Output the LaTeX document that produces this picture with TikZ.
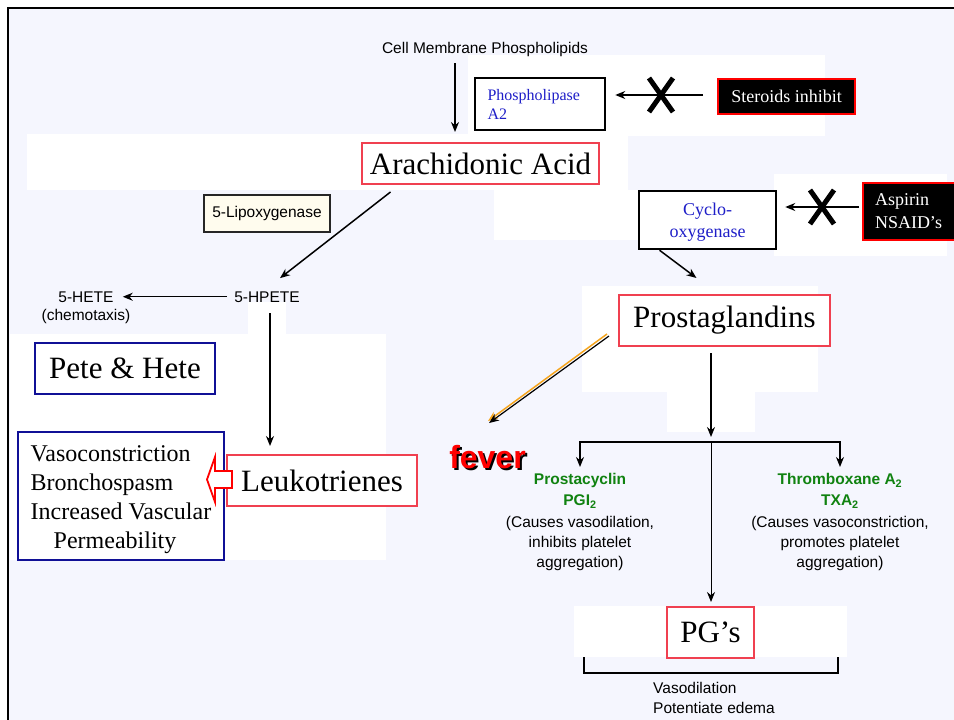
\documentclass[tikz,border=0pt]{standalone}
\usepackage{fontspec}
\setmainfont{Liberation Serif}
\newfontfamily\arialf{Liberation Sans}
\usetikzlibrary{arrows.meta,shapes.misc}
\definecolor{lavender}{RGB}{245,246,254}
\definecolor{boxred}{RGB}{240,64,80}
\definecolor{navy}{RGB}{16,16,150}
\definecolor{linkblue}{RGB}{30,30,200}
\definecolor{leafgreen}{RGB}{16,130,16}
\definecolor{feverorange}{RGB}{245,165,30}
\definecolor{cream}{RGB}{255,252,238}
\begin{document}
\begin{tikzpicture}[x=1pt,y=-1pt,
  redbox/.style={draw=boxred,line width=2pt,fill=white,inner sep=0pt,font=\fontsize{31}{34}\selectfont},
  bluebox/.style={draw=navy,line width=2pt,fill=white,inner sep=0pt},
  enzbox/.style={draw=black,line width=2.5pt,fill=white,text=linkblue,inner sep=0pt},
  drugbox/.style={draw=red,line width=2pt,fill=black,text=white,inner sep=0pt,font=\fontsize{18}{23}\selectfont},
  lbl/.style={inner sep=1pt,font=\arialf\fontsize{15.5}{20}\selectfont},
  ttl/.style={inner sep=1pt,align=center,text=leafgreen,font=\arialf\bfseries\fontsize{15.5}{21}\selectfont},
  fevertxt/.style={inner sep=1pt,font=\arialf\bfseries\fontsize{32}{32}\selectfont},
  xmark/.style={cross out,draw,line width=5pt,minimum width=19pt,minimum height=29pt,inner sep=0pt},
  arr/.style={-{Stealth[length=10pt,width=8pt]},line width=1.5pt}]
  \useasboundingbox (0,0) rectangle (954,720);
  % background and white patches
  \fill[white] (0,0) rectangle (954,720);
  \fill[lavender] (8,8) rectangle (954,720);
  \fill[white] (468,55) rectangle (825,136);
  \fill[white] (27,134) rectangle (628,190);
  \fill[white] (494,190) rectangle (774,240);
  \fill[white] (774,174) rectangle (947,256);
  \fill[white] (582,286) rectangle (818,392);
  \fill[white] (667,392) rectangle (755,432);
  \fill[white] (574,606) rectangle (847,657);
  \fill[white] (10,334) rectangle (386,560);
  \fill[white] (248,302) rectangle (286,334);
  \draw[line width=2.5pt] (8,720) -- (8,8) -- (954,8);

  \node[lbl,anchor=base] (cmp) at (485,53) {Cell Membrane Phospholipids};
  \node[redbox,minimum width=237pt,minimum height=41pt] (aa) at (480.5,163.5) {Arachidonic Acid};
  \node[enzbox,minimum width=130pt,minimum height=52pt,text width=105pt,align=left,font=\fontsize{16}{19}\selectfont] (pla) at (540,104) {Phospholipase\\A2};
  \node[drugbox,minimum width=137pt,minimum height=35pt] (st) at (786.5,96.5) {Steroids inhibit};
  \node[enzbox,minimum width=137pt,minimum height=58pt,align=center,font=\fontsize{18}{22}\selectfont] (cox) at (707.5,220) {\rule{0pt}{17pt}Cyclo-\\oxygenase};
  \node[drugbox,minimum width=112pt,minimum height=57pt,text width=88pt,align=left] (asp) at (919,211.5) {Aspirin\\NSAID’s};
  \node[lbl,draw=black!85,line width=1.5pt,fill=cream,minimum width=126pt,minimum height=37pt] (lox) at (267,213.5) {5-Lipoxygenase};

  \node[lbl,anchor=base] (hpete) at (267,302) {5-HPETE};
  \node[lbl,anchor=base] (hete) at (86,302) {5-HETE};
  \node[lbl,anchor=base] (chemo) at (86,320) {(chemotaxis)};
  \node[bluebox,minimum width=180pt,minimum height=51pt,font=\fontsize{31}{34}\selectfont] (ph) at (125,368.5) {Pete \& Hete};
  \node[redbox,minimum width=190pt,minimum height=51pt] (lt) at (322,480.5) {Leukotrienes};
  \node[bluebox,minimum width=206pt,minimum height=128pt,align=left,font=\fontsize{24}{29}\selectfont] (eff) at (121,496) {\rule{0pt}{24pt}Vasoconstriction\\Bronchospasm\\Increased Vascular\\\hspace*{23pt}Permeability};

  \node[redbox,minimum width=211pt,minimum height=51pt] (pg) at (724.5,320.5) {Prostaglandins};
  \node[redbox,minimum width=87pt,minimum height=51pt] (pgs) at (710.5,632.5) {PG’s};
  \node[fevertxt,text=black] (fevershadow) at (489.5,459.5) {fever};
  \node[fevertxt,text=red] (fever) at (487.5,457.5) {fever};
  \node[ttl,anchor=north] (pgi) at (580,472) {Prostacyclin\\PGI\textsubscript{2}};
  \node[lbl,align=center,anchor=north] (pgidesc) at (580,515) {(Causes vasodilation,\\inhibits platelet\\aggregation)};
  \node[ttl,anchor=north] (txa) at (840,472) {Thromboxane A\textsubscript{2}\\TXA\textsubscript{2}};
  \node[lbl,align=center,anchor=north] (txadesc) at (840,515) {(Causes vasoconstriction,\\promotes platelet\\aggregation)};
  \node[lbl,align=left,anchor=north west] (vaso) at (652,681) {Vasodilation\\Potentiate edema};

  % inhibitors
  \node[xmark] (xst) at (661,95) {};
  \node[xmark] (xasp) at (822,207) {};
  \draw[arr,shorten <=14pt,shorten >=9pt] ([yshift=1.5pt]st.west) -- ([yshift=1.5pt]st.west -| pla.east);
  \draw[arr,shorten <=3pt,shorten >=8pt] ([yshift=4.5pt]asp.west) -- ([yshift=4.5pt]asp.west -| cox.east);

  % pathway
  \coordinate (cmpout) at (455,63);
  \draw[arr,shorten >=10pt] (cmpout) -- (cmpout |- aa.north);
  \draw[arr] ([xshift=-90pt,yshift=-7pt]aa.south) -- ([xshift=13pt,yshift=12pt]hpete.north);
  \draw[arr,shorten <=6pt,shorten >=8pt] (hpete.west) -- (hpete.west -| hete.east);
  \draw[arr,shorten <=10pt,shorten >=8pt] ([xshift=3pt]hpete.south) -- ([xshift=3pt]hpete.south |- lt.north);
  \draw[red,line width=1.8pt,fill=white] (232,471) -- (215,471) -- (215,457) -- (207,479.5) -- (215,502) -- (215,488) -- (232,488) -- cycle;
  \draw[arr] ([xshift=-48pt]cox.south) -- ([xshift=-28pt,yshift=16pt]pg.north);
  \draw[arr,feverorange] ([xshift=-11pt,yshift=-13.5pt]pg.west) -- ([xshift=0.5pt,yshift=23.5pt]fever.north);
  \draw[arr,line width=1.2pt] ([xshift=-9pt,yshift=-15.5pt]pg.west) -- ([xshift=1.5pt,yshift=21.5pt]fever.north);

  \coordinate (split) at (711,442);
  \draw[arr,shorten <=6pt,shorten >=5pt] (pg.south -| split) -- (split);
  \draw[arr,shorten >=5pt] (split) -| (pgi.north);
  \draw[arr,shorten >=5pt] (split) -| (txa.north);
  \draw[arr,line width=1pt,shorten >=4pt] (split) -- (split |- pgs.north);
  \draw[line width=1.5pt] (584,657) -- (584,673) -- (838,673) -- (838,657);
\end{tikzpicture}
\end{document}
